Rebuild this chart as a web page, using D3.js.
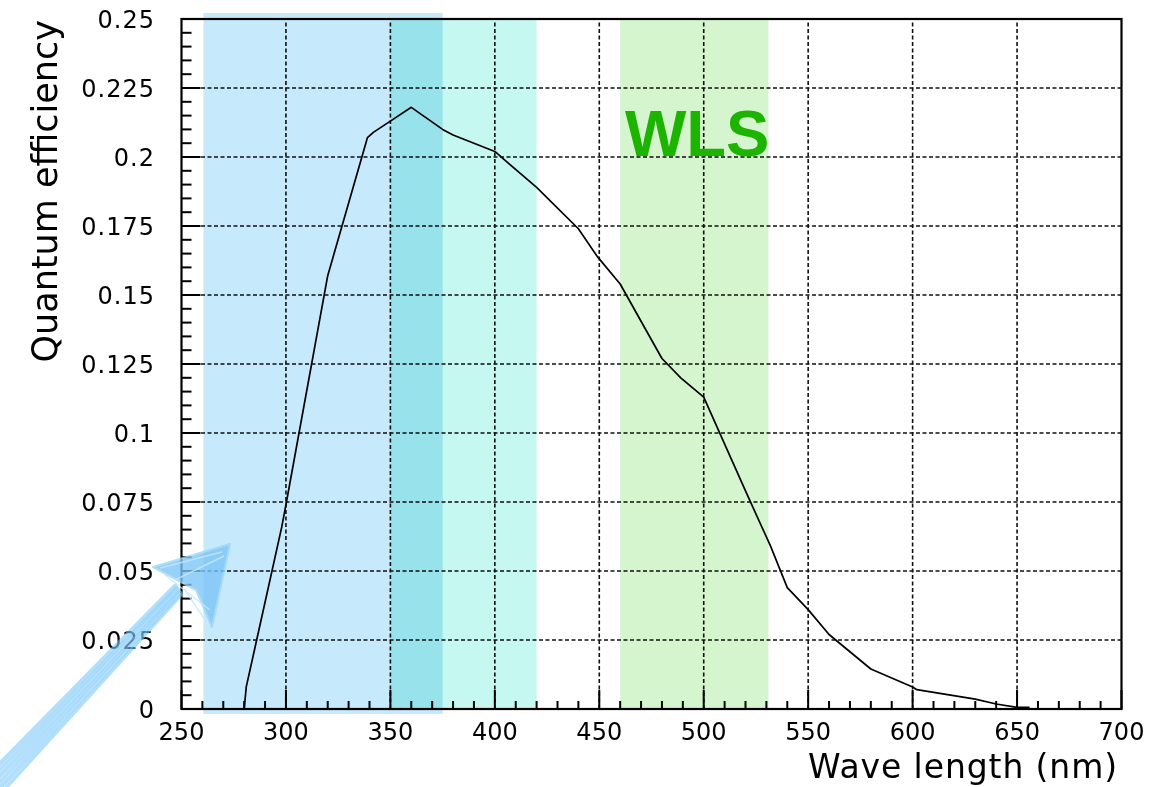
<!DOCTYPE html>
<html>
<head>
<meta charset="utf-8">
<script src="https://cdn.jsdelivr.net/npm/d3@7"></script>
<style>
  html, body { margin: 0; padding: 0; background: #fff; }
  svg { display: block; }
  text { font-family: "DejaVu Sans", sans-serif; fill: #000; }
</style>
</head>
<body>
<svg id="chart" width="1176" height="787"></svg>
<script>
// Photocathode quantum efficiency vs. wavelength
const wavelength = [280, 281, 298, 300, 320, 339, 342, 350, 360, 375, 380, 400, 420, 440, 449, 460,
                    480, 489, 500, 520, 532, 540, 550, 560, 580, 600, 602, 630, 640, 650, 656];
const efficiency = [0, 0.008, 0.066, 0.074, 0.157, 0.207, 0.209, 0.213, 0.218, 0.210, 0.208, 0.202,
                    0.189, 0.174, 0.164, 0.154, 0.127, 0.120, 0.113, 0.079, 0.059, 0.044, 0.036,
                    0.027, 0.0145, 0.008, 0.007, 0.0036, 0.0018, 0.0006, 0.0006];

// Axis ticks
const xMajor = [250, 300, 350, 400, 450, 500, 550, 600, 650, 700];
const yMajor = [0, 0.025, 0.05, 0.075, 0.1, 0.125, 0.15, 0.175, 0.2, 0.225, 0.25];
const yLabels = ["0", "0.025", "0.05", "0.075", "0.1", "0.125", "0.15", "0.175", "0.2", "0.225", "0.25"];

// Highlighted wavelength bands [from, to] (nm)
const bandNames = ["uv", "blue", "wls"];
const bandFrom = [260.5, 350, 460];
const bandTo = [375, 420, 531];
const bandColors = ["#c6e9fb", "#c4f8f0", "#d5f5cf"];

const svg = d3.select("#chart");
const x = d3.scaleLinear().domain([250, 700]).range([181.5, 1121.5]);
const y = d3.scaleLinear().domain([0, 0.25]).range([709, 19]);

// Grid
const grid = svg.append("g").attr("stroke", "#111").attr("stroke-width", 1.6)
  .attr("stroke-dasharray", "4,2.5");
grid.selectAll("line.v").data(xMajor.slice(1, -1)).join("line")
  .attr("x1", d => x(d)).attr("x2", d => x(d)).attr("y1", y(0)).attr("y2", y(0.25));
grid.selectAll("line.h").data(yMajor.slice(1, -1)).join("line")
  .attr("x1", x(250)).attr("x2", x(700)).attr("y1", d => y(d)).attr("y2", d => y(d));

// Minor / major ticks drawn inside the frame
const ticks = svg.append("g").attr("stroke", "#000").attr("stroke-width", 2);
const xMinor = d3.range(250, 701, 10);
ticks.selectAll("line.xt").data(xMinor).join("line")
  .attr("x1", d => x(d)).attr("x2", d => x(d))
  .attr("y1", y(0)).attr("y2", d => y(0) - (d % 50 === 0 ? 19 : 8));
const yMinor = d3.range(0, 51).map(i => i * 0.005);
ticks.selectAll("line.yt").data(yMinor).join("line")
  .attr("y1", d => y(d)).attr("y2", d => y(d))
  .attr("x1", x(250)).attr("x2", (d, i) => x(250) + (i % 5 === 0 ? 19 : 10));

// Frame
svg.append("rect").attr("x", x(250)).attr("y", y(0.25))
  .attr("width", x(700) - x(250)).attr("height", y(0) - y(0.25))
  .attr("fill", "none").attr("stroke", "#000").attr("stroke-width", 2.2);

// Efficiency curve
const line = d3.line().x(d => x(d[0])).y(d => y(d[1]));
svg.append("path").datum(d3.zip(wavelength, efficiency))
  .attr("d", line).attr("fill", "none").attr("stroke", "#000").attr("stroke-width", 1.7)
  .attr("stroke-linejoin", "round");

// Coloured bands laid over the plot
const bands = svg.append("g");
bandNames.forEach((name, i) => {
  const top = name === "uv" ? y(0.25) - 6 : y(0.25) + 1;
  const bottom = name === "uv" ? y(0) + 5 : y(0) - 1;
  bands.append("rect")
    .attr("x", x(bandFrom[i])).attr("width", x(bandTo[i]) - x(bandFrom[i]))
    .attr("y", top).attr("height", bottom - top)
    .attr("fill", bandColors[i]).style("mix-blend-mode", "multiply");
});

// Tick labels
svg.append("g").selectAll("text").data(xMajor).join("text")
  .attr("x", d => x(d)).attr("y", 740).attr("text-anchor", "middle")
  .attr("font-size", 24).text(d => d);
svg.append("g").selectAll("text").data(yMajor).join("text")
  .attr("x", 155).attr("y", d => y(d) + 8.5).attr("text-anchor", "end")
  .attr("font-size", 24).attr("letter-spacing", 1).text((d, i) => yLabels[i]);

// Axis titles
svg.append("text").attr("x", 1118).attr("y", 778).attr("text-anchor", "end")
  .attr("font-size", 33).attr("letter-spacing", 0.9).text("Wave length (nm)");
svg.append("text").attr("transform", "translate(57,20) rotate(-90)")
  .attr("text-anchor", "end").attr("font-size", 35).text("Quantum efficiency");

// WLS label
svg.append("text").attr("x", 625).attr("y", 156)
  .style("font-family", "'Liberation Sans', Arial, sans-serif")
  .attr("font-weight", "bold").attr("font-size", 65).style("fill", "#1db400")
  .text("WLS");

// Hand-drawn arrow pointing at the low-wavelength edge
const arrow = svg.append("g").attr("fill", "none").attr("stroke", "#7fcaf8")
  .attr("stroke-linecap", "round").attr("opacity", 0.8);
const shaftOffsets = [-7, -4, -1, 2, 5, 8];
shaftOffsets.forEach((o, i) => {
  arrow.append("path")
    .attr("d", `M${-4 + o},${782 + o} L${178 + o * 0.4},${590 + o * 0.6}`)
    .attr("stroke-width", i % 2 ? 3.5 : 4.5).attr("opacity", 0.75);
});
svg.append("path")
  .attr("d", "M153,567 L230,544 L212,627 L196,590 Z")
  .attr("fill", "#7cc6f7").attr("opacity", 0.8)
  .attr("stroke", "#9dd6fa").attr("stroke-width", 2).attr("stroke-linejoin", "round");
svg.append("path")
  .attr("d", "M160,568 L222,552 M165,575 L210,610 M175,580 L224,556 M185,590 L205,620")
  .attr("stroke", "#c5e7fd").attr("stroke-width", 1.5).attr("fill", "none").attr("opacity", 0.8);
</script>
</body>
</html>
